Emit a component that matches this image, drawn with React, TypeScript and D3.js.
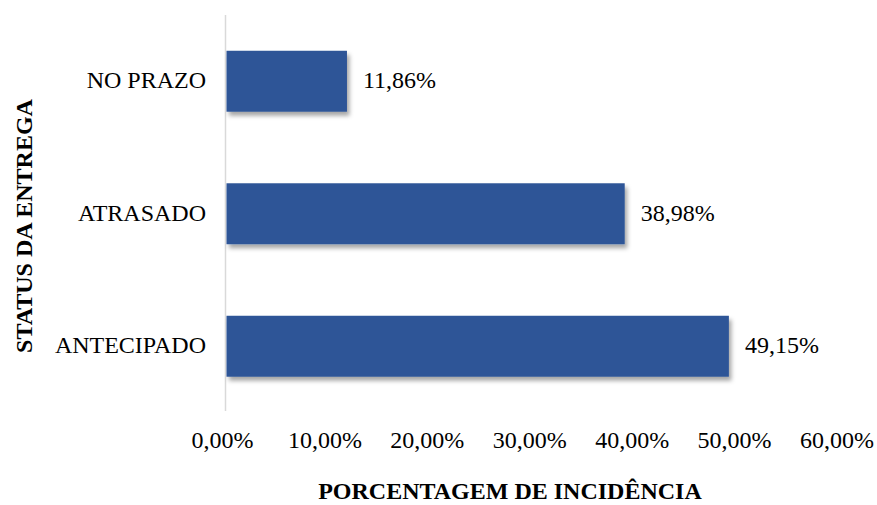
import React from "react";
import * as d3 from "d3";

const categories = ["NO PRAZO", "ATRASADO", "ANTECIPADO"];
const values = [11.86, 38.98, 49.15];
const ticks = [0, 10, 20, 30, 40, 50, 60];

const W = 877;
const H = 505;
const fmt = (v: number) => v.toFixed(2).replace(".", ",") + "%";

export default function App() {
  const x = d3.scaleLinear().domain([0, 60]).range([225.5, 840]);
  const y = d3.scaleBand().domain(categories).range([15, 412.5]).paddingInner(0.54).paddingOuter(0.27);
  const st: React.CSSProperties = { fontFamily: "Liberation Serif, Times New Roman, serif", fontSize: "24px" };
  return (
    <svg width={W} height={H} style={{ position: "absolute", left: 0, top: 0, background: "#fff" }}>
      <defs>
        <filter id="sh" x="-10%" y="-20%" width="130%" height="160%">
          <feDropShadow dx="2.5" dy="4" stdDeviation="2" floodColor="#000" floodOpacity="0.35" />
        </filter>
      </defs>
      <line x1={x(0)} x2={x(0)} y1={15} y2={411} stroke="#d9d9d9" strokeWidth={1.5} />
      {categories.map((c, i) => {
        const y0 = y(c)!;
        const bw = y.bandwidth();
        return (
          <g key={c}>
            <rect x={x(0) + 1} y={y0} width={x(values[i]) - x(0) - 1} height={bw} fill="#2F5597" filter="url(#sh)" />
            <text x={206} y={y0 + bw / 2} dy="0.3em" textAnchor="end" style={st} fill="#000">{c}</text>
            <text x={x(values[i]) + 16} y={y0 + bw / 2} dy="0.3em" textAnchor="start" style={st} fill="#000">{fmt(values[i])}</text>
          </g>
        );
      })}
      {ticks.map((t) => (
        <text key={t} x={x(t) - 3} y={448} textAnchor="middle" style={st} fill="#000">{fmt(t)}</text>
      ))}
      <text x={510} y={499} textAnchor="middle" style={{ ...st, fontWeight: "bold" }} fill="#000">PORCENTAGEM DE INCIDÊNCIA</text>
      <text transform="translate(32,226) rotate(-90)" textAnchor="middle" style={{ ...st, fontWeight: "bold" }} fill="#000">STATUS DA ENTREGA</text>
    </svg>
  );
}
